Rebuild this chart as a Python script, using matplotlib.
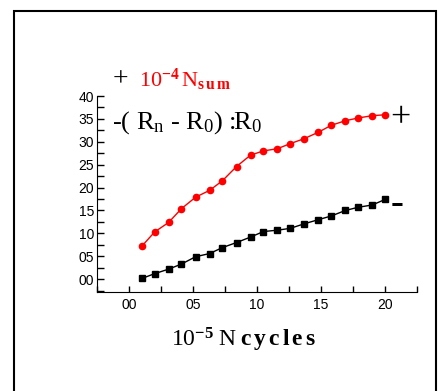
import numpy as np
import matplotlib.pyplot as plt
from matplotlib.patches import Rectangle
from matplotlib.ticker import MultipleLocator

plt.rcParams['mathtext.fontset'] = 'custom'
plt.rcParams['mathtext.rm'] = 'Liberation Serif'
plt.rcParams['mathtext.it'] = 'Liberation Serif'
plt.rcParams['mathtext.bf'] = 'Liberation Serif:bold'

# Data (x in units of 1e5 cycles)
cycles = [0.10, 0.20, 0.31, 0.41, 0.52, 0.63, 0.73, 0.84, 0.95, 1.05,
          1.16, 1.26, 1.37, 1.48, 1.58, 1.69, 1.79, 1.90, 2.00]
n_sum = [0.72, 1.03, 1.24, 1.54, 1.79, 1.94, 2.15, 2.46, 2.71, 2.80,
         2.85, 2.96, 3.07, 3.21, 3.36, 3.46, 3.52, 3.57, 3.59]
dr = [0.015, 0.12, 0.22, 0.33, 0.49, 0.56, 0.69, 0.80, 0.92, 1.04,
      1.07, 1.11, 1.21, 1.30, 1.38, 1.50, 1.57, 1.62, 1.74]

x_ticks = [0.0, 0.5, 1.0, 1.5, 2.0]
x_labels = ["00", "05", "10", "15", "20"]
y_ticks = [0.0, 0.5, 1.0, 1.5, 2.0, 2.5, 3.0, 3.5, 4.0]
y_labels = ["00", "05", "10", "15", "20", "25", "30", "35", "40"]

fig = plt.figure(figsize=(4.4, 3.91), dpi=100)
ax = fig.add_axes([97 / 440, 1 - 292 / 391, 320 / 440, 196 / 391])

ax.plot(cycles, n_sum, '-o', color='red', ms=4.5, lw=1)
ax.plot(cycles, dr, '-s', color='black', ms=4.5, lw=1)

ax.set_xlim(-0.25, 2.25)
ax.set_ylim(-0.28, 4.0)
ax.set_xticks(x_ticks)
ax.set_xticklabels(x_labels, fontfamily='Liberation Sans', fontsize=10)
ax.set_yticks(y_ticks)
ax.set_yticklabels(y_labels, fontfamily='Liberation Sans', fontsize=10)
ax.xaxis.set_minor_locator(MultipleLocator(0.25))
ax.yaxis.set_minor_locator(MultipleLocator(0.25))
ax.tick_params(which='both', direction='in', width=1)
ax.tick_params(axis='x', which='both', length=4, pad=4)
ax.tick_params(axis='y', which='both', length=5, pad=2)
ax.spines['top'].set_visible(False)
ax.spines['right'].set_visible(False)

# Annotations
fig.text(120 / 440, 1 - 80 / 391, "+", fontsize=20, fontfamily='Liberation Serif',
         va='center', ha='center')
fig.text(139 / 440, 1 - 80 / 391, r"$10^{\mathbf{-4}}\,N_{\mathbf{s\,u\,m}}$", fontsize=16,
         color='red', va='center', ha='left')
fig.text(112 / 440, 1 - 123 / 391, "-( R$_n$ - R$_0$) :R$_0$", fontsize=19,
         fontfamily='Liberation Serif', va='center', ha='left')
fig.text(400 / 440, 1 - 119 / 391, "+", fontsize=26, fontfamily='Liberation Serif',
         va='center', ha='center')
fig.text(397 / 440, 1 - 204 / 391, "-", fontsize=28, fontfamily='Liberation Serif',
         fontweight='bold', va='center', ha='center')
fig.text(244 / 440, 1 - 340 / 391, r"$10^{\mathbf{-5}}\;N\;\mathbf{c\,y\,c\,l\,e\,s}$",
         fontsize=17, va='center', ha='center')

# Outer frame
fig.add_artist(Rectangle((14 / 440, -0.05), 422 / 440, (391 - 11) / 391 + 0.05,
                         transform=fig.transFigure, fill=False, lw=1.5,
                         edgecolor='black', clip_on=False))

fig.savefig("out.png", dpi=100)
